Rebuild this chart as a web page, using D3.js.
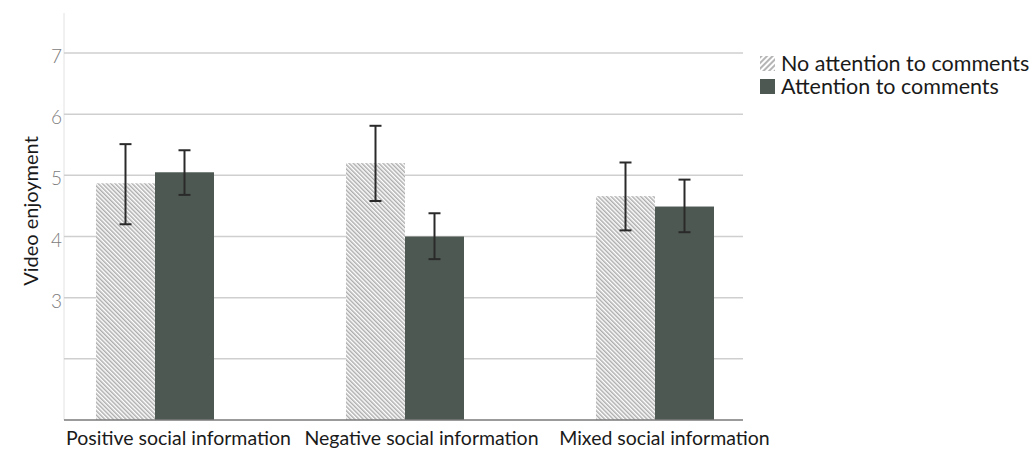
<!DOCTYPE html>
<html>
<head>
<meta charset="utf-8">
<script src="https://cdn.jsdelivr.net/npm/d3@7"></script>
<style>
  body { margin: 0; background: #fff; }
  text { font-family: Lato, "Open Sans", sans-serif; }
</style>
</head>
<body>
<script>
const categories = ["Positive social information", "Negative social information", "Mixed social information"];
const seriesNames = ["No attention to comments", "Attention to comments"];
const noAttention = [4.87, 5.20, 4.66];
const noAttentionLow = [4.20, 4.58, 4.10];
const noAttentionHigh = [5.51, 5.81, 5.21];
const attention = [5.05, 4.00, 4.49];
const attentionLow = [4.68, 3.63, 4.07];
const attentionHigh = [5.41, 4.38, 4.93];
const yTicks = [2, 3, 4, 5, 6, 7];
const yTickLabels = ["", "3", "4", "5", "6", "7"];

const width = 1029, height = 449;
const svg = d3.select("body").append("svg")
  .attr("width", width).attr("height", height);

const defs = svg.append("defs");
// bar hatch "\\\\"
const pat = defs.append("pattern")
  .attr("id", "hatch").attr("patternUnits", "userSpaceOnUse")
  .attr("width", 3).attr("height", 3)
  .attr("patternTransform", "rotate(-45)");
pat.append("rect").attr("width", 3).attr("height", 3).attr("fill", "#fff");
pat.append("line").attr("x1", 0.75).attr("y1", 0).attr("x2", 0.75).attr("y2", 3)
  .attr("stroke", "#adadad").attr("stroke-width", 1.5);
// legend hatch "////"
const pat2 = defs.append("pattern")
  .attr("id", "hatch2").attr("patternUnits", "userSpaceOnUse")
  .attr("width", 4).attr("height", 4)
  .attr("patternTransform", "rotate(45)");
pat2.append("rect").attr("width", 4).attr("height", 4).attr("fill", "#fff");
pat2.append("line").attr("x1", 1).attr("y1", 0).attr("x2", 1).attr("y2", 4)
  .attr("stroke", "#b5b5b5").attr("stroke-width", 2);

const y = d3.scaleLinear().domain([1, 7]).range([420, 53]);
const x = d3.scaleBand().domain(categories).range([30, 780]);
const xs = d3.scaleBand().domain([0, 1]).range([0, 118]);
const xl = d3.scaleBand().domain(categories).range([57, 786]);

// axis line
svg.append("line").attr("x1", 64).attr("x2", 64)
  .attr("y1", 13).attr("y2", 420).attr("stroke", "#e2e2e2").attr("stroke-width", 1);

// gridlines + labels
const grid = svg.append("g").selectAll("g").data(yTicks).enter().append("g");
grid.append("line").attr("x1", 64).attr("x2", 743)
  .attr("y1", d => y(d)).attr("y2", d => y(d))
  .attr("stroke", "#cfcfcf").attr("stroke-width", 1.5);
grid.append("text").attr("x", 62).attr("y", d => y(d) + 10)
  .attr("text-anchor", "end").attr("font-size", 19).attr("font-weight", 300)
  .attr("fill", "#7c7c7c").text((d, i) => yTickLabels[i]);

const groups = svg.append("g").selectAll("g").data(categories).enter().append("g")
  .attr("transform", d => "translate(" + (x(d) + x.bandwidth() / 2 - 59) + ",0)");

const series = [
  { vals: noAttention, lo: noAttentionLow, hi: noAttentionHigh, fill: "url(#hatch)", legendFill: "url(#hatch2)" },
  { vals: attention, lo: attentionLow, hi: attentionHigh, fill: "#4e5852", legendFill: "#4e5852" }
];

series.forEach((s, si) => {
  groups.append("rect")
    .attr("x", xs(si)).attr("width", xs.bandwidth())
    .attr("y", (d, i) => y(s.vals[i]))
    .attr("height", (d, i) => y(1) - y(s.vals[i]))
    .attr("fill", s.fill);
});

// baseline
svg.append("line").attr("x1", 64).attr("x2", 743)
  .attr("y1", y(1)).attr("y2", y(1)).attr("stroke", "#7a7a7a").attr("stroke-width", 1.5);

series.forEach((s, si) => {
  const cx = xs(si) + xs.bandwidth() / 2;
  const eb = groups.append("g").attr("stroke", "#2a2a2a").attr("stroke-width", 2);
  eb.append("line").attr("x1", cx).attr("x2", cx)
    .attr("y1", (d, i) => y(s.hi[i])).attr("y2", (d, i) => y(s.lo[i]));
  eb.append("line").attr("x1", cx - 6).attr("x2", cx + 6)
    .attr("y1", (d, i) => y(s.hi[i])).attr("y2", (d, i) => y(s.hi[i]));
  eb.append("line").attr("x1", cx - 6).attr("x2", cx + 6)
    .attr("y1", (d, i) => y(s.lo[i])).attr("y2", (d, i) => y(s.lo[i]));
});

// x labels
svg.append("g").selectAll("text").data(categories).enter().append("text")
  .attr("x", d => xl(d) + xl.bandwidth() / 2).attr("y", 445)
  .attr("text-anchor", "middle").attr("font-size", 19.5).attr("fill", "#1a1a1a")
  .text(d => d);

// y title
svg.append("text").attr("transform", "translate(38,211) rotate(-90)")
  .attr("text-anchor", "middle").attr("font-size", 20).attr("fill", "#1a1a1a")
  .text("Video enjoyment");

// legend
const legend = svg.append("g").selectAll("g").data(seriesNames).enter().append("g")
  .attr("transform", (d, i) => "translate(760," + (56 + i * 23) + ")");
legend.append("rect").attr("width", 15).attr("height", 15)
  .attr("fill", (d, i) => series[i].legendFill);
legend.append("text").attr("x", 21).attr("y", 15)
  .attr("font-size", 21.5).attr("fill", "#1a1a1a").text(d => d);
</script>
</body>
</html>
